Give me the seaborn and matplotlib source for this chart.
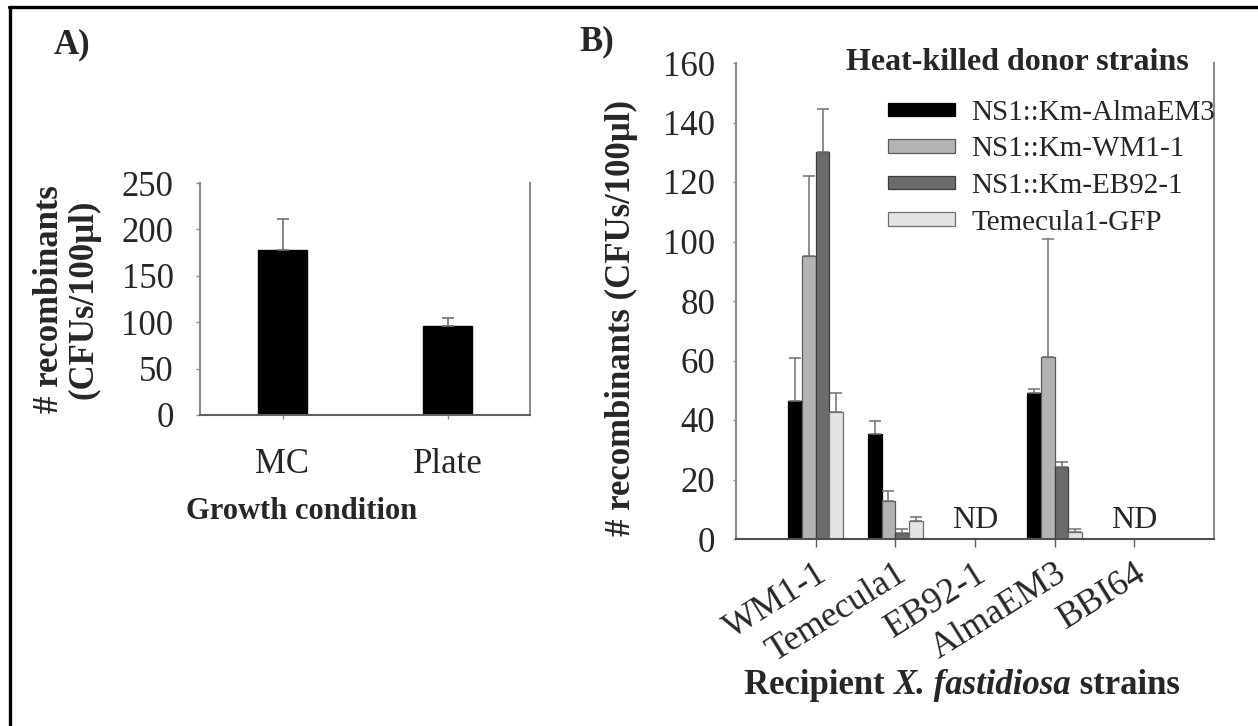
import matplotlib
matplotlib.use("Agg")
import matplotlib.pyplot as plt
from matplotlib.lines import Line2D
import seaborn as sns
import pandas as pd
import numpy as np

# ---------------- data ----------------
growth_conditions = ["MC", "Plate"]
growth_values = [178, 96]
growth_errors = [33, 8]

recipients = ["WM1-1", "Temecula1", "EB92-1", "AlmaEM3", "BBI64"]
donors = ["NS1::Km-AlmaEM3", "NS1::Km-WM1-1", "NS1::Km-EB92-1", "Temecula1-GFP"]
# ND (not detected) recipients are stored as 0 and labelled "ND"
vals_almaem3 = [46.5, 35.3, 0, 49.0, 0]
vals_wm11 = [95.0, 12.8, 0, 61.2, 0]
vals_eb921 = [130.0, 1.9, 0, 24.3, 0]
vals_temgfp = [42.8, 6.2, 0, 2.5, 0]
err_almaem3 = [14.5, 4.5, 0, 1.4, 0]
err_wm11 = [27.0, 3.3, 0, 39.6, 0]
err_eb921 = [14.5, 1.3, 0, 1.5, 0]
err_temgfp = [6.2, 1.1, 0, 0.8, 0]
nd_recipients = ["EB92-1", "BBI64"]

xlabel_parts = ["Recipient ", "X. fastidiosa", " strains"]
xlabel_italic = [False, True, False]

donor_colors = ["#000000", "#b3b3b3", "#6b6b6b", "#e3e3e3"]
W, H = 1258, 726

# ---------------- style ----------------
sns.set_style("white")
plt.rcParams["font.family"] = ["Liberation Serif", "DejaVu Serif"]

fig = plt.figure(figsize=(W / 100, H / 100), dpi=100)

def fx(px):
    return px / W

def fy(py):
    return 1 - py / H

spine_col = "#8a8a8a"
err_col = "#707070"

# ---------------- panel A ----------------
axA = fig.add_axes([fx(200), fy(415), fx(530) - fx(200), fy(183) - fy(415)])
dfA = pd.DataFrame({"cond": growth_conditions, "val": growth_values})
sns.barplot(data=dfA, x="cond", y="val", order=growth_conditions, color="black",
            width=0.3, errorbar=None, ax=axA, saturation=1)
xs, hs = [], []
for p in axA.patches:
    p.set_facecolor("black")
    p.set_edgecolor("black")
    xs.append(p.get_x() + p.get_width() / 2)
    hs.append(p.get_height())
order = np.argsort(xs)
xs = np.array(xs)[order]
hs = np.array(hs)[order]
axA.errorbar(xs, hs, yerr=[np.zeros(len(hs)), growth_errors], fmt="none",
             ecolor=err_col, elinewidth=1.2, capsize=4, capthick=1.2, zorder=1)
axA.set_xlim(-0.5, 1.5)
axA.set_ylim(0, 250)
axA.set_yticks([0, 50, 100, 150, 200, 250])
axA.tick_params(axis="y", labelsize=25, length=3, width=1, color=spine_col, pad=16, left=True)
axA.tick_params(axis="x", labelsize=25, length=3, width=1, color=spine_col, pad=21, bottom=True)
for s in ["left", "right"]:
    axA.spines[s].set_color(spine_col)
    axA.spines[s].set_linewidth(1.5)
axA.spines["bottom"].set_color("#606060")
axA.spines["bottom"].set_linewidth(1.5)
axA.spines["top"].set_visible(False)
axA.set_ylabel("# recombinants\n(CFUs/100µl)", fontsize=25, fontweight="bold", linespacing=1.05)
axA.yaxis.set_label_coords((100 - 200) / 330, 0.5)
axA.set_xlabel("Growth condition", fontsize=22, fontweight="bold")
axA.xaxis.set_label_coords((302 - 200) / 330, (415 - 497) / 232)

# ---------------- panel B ----------------
axB = fig.add_axes([fx(736), fy(539), fx(1214) - fx(736), fy(63) - fy(539)])
dfB = pd.DataFrame({
    "recipient": recipients * 4,
    "donor": sum([[d] * len(recipients) for d in donors], []),
    "val": vals_almaem3 + vals_wm11 + vals_eb921 + vals_temgfp,
})
errs = [err_almaem3, err_wm11, err_eb921, err_temgfp]
group_width = 0.69
sns.barplot(data=dfB, x="recipient", y="val", hue="donor", order=recipients,
            hue_order=donors, palette=donor_colors, width=group_width, errorbar=None,
            ax=axB, saturation=1, legend=True)
edge_cols = ["#000000", "#5a5a5a", "#3c3c3c", "#6e6e6e"]
nh = len(donors)
bw = group_width / nh
ebx = [[] for _ in range(nh)]
eby = [[] for _ in range(nh)]
ebe = [[] for _ in range(nh)]
for p in list(axB.patches):
    cx = p.get_x() + p.get_width() / 2
    cat = int(round(cx))
    hi = int(round((cx - cat) / bw + (nh - 1) / 2))
    if not (0 <= hi < nh and 0 <= cat < len(recipients)):
        continue
    p.set_facecolor(donor_colors[hi])
    p.set_edgecolor(edge_cols[hi])
    p.set_linewidth(0.9)
    if p.get_height() == 0:
        p.set_linewidth(0)
        continue
    ebx[hi].append(cx)
    eby[hi].append(p.get_height())
    ebe[hi].append(errs[hi][cat])
for hi in range(nh):
    axB.errorbar(ebx[hi], eby[hi], yerr=[np.zeros(len(ebe[hi])), ebe[hi]], fmt="none",
                 ecolor=err_col, elinewidth=1.1, capsize=4, capthick=1.1, zorder=1)
for r in nd_recipients:
    axB.text(recipients.index(r), 1.2, "ND", ha="center", va="bottom", fontsize=23)
axB.set_xlim(-1, 5)
axB.set_ylim(0, 160)
axB.set_yticks(range(0, 161, 20))
axB.tick_params(axis="y", labelsize=25, length=2, width=1, color=spine_col, pad=13, left=True)
axB.tick_params(axis="x", labelsize=26, length=6, width=1, color="#606060", pad=7, bottom=True)
for lab in axB.get_xticklabels():
    lab.set_rotation(32)
    lab.set_ha("right")
    lab.set_va("top")
    lab.set_rotation_mode("anchor")
for s in ["left", "right"]:
    axB.spines[s].set_color(spine_col)
    axB.spines[s].set_linewidth(1.5)
axB.spines["bottom"].set_color("#505050")
axB.spines["bottom"].set_linewidth(1.5)
axB.spines["top"].set_visible(False)
axB.set_ylabel("# recombinants (CFUs/100µl)", fontsize=25, fontweight="bold")
axB.yaxis.set_label_coords((638 - 736) / 478, (539 - 318) / 476)
axB.set_xlabel("")

leg = axB.legend(loc="upper left", bbox_to_anchor=(fx(888), fy(100)),
                 bbox_transform=fig.transFigure, frameon=False, fontsize=21,
                 handlelength=2.3, handleheight=0.35, handletextpad=0.55,
                 labelspacing=0.36, borderpad=0, borderaxespad=0, title=None)
for h, fc, ec in zip(leg.legend_handles, donor_colors, edge_cols):
    h.set_facecolor(fc)
    h.set_edgecolor(ec)
    h.set_linewidth(0.9)

fig.text(fx(1017), fy(63), "Heat-killed donor strains", ha="center", va="center",
         fontsize=23, fontweight="bold")

# x-axis title of panel B with an italic species name: parts placed side by side
renderer = fig.canvas.get_renderer()
parts = []
for txt, it in zip(xlabel_parts, xlabel_italic):
    t = fig.text(0, fy(685), txt, ha="left", va="center", fontsize=25, fontweight="bold",
                 fontstyle="italic" if it else "normal")
    parts.append(t)
widths = [t.get_window_extent(renderer).width for t in parts]
x0 = 962 - sum(widths) / 2
for t, w in zip(parts, widths):
    t.set_x(fx(x0))
    x0 += w

# panel letters
fig.text(fx(72), fy(45), "A)", ha="center", va="center", fontsize=25, fontweight="bold")
fig.text(fx(597), fy(42), "B)", ha="center", va="center", fontsize=25, fontweight="bold")

# frame lines (top and left)
fig.add_artist(Line2D([fx(9), 1.0], [fy(7), fy(7)], transform=fig.transFigure,
                      color="black", lw=2.4))
fig.add_artist(Line2D([fx(10), fx(10)], [0.0, fy(7)], transform=fig.transFigure,
                      color="black", lw=2.4))

fig.savefig("out.png", dpi=100)
